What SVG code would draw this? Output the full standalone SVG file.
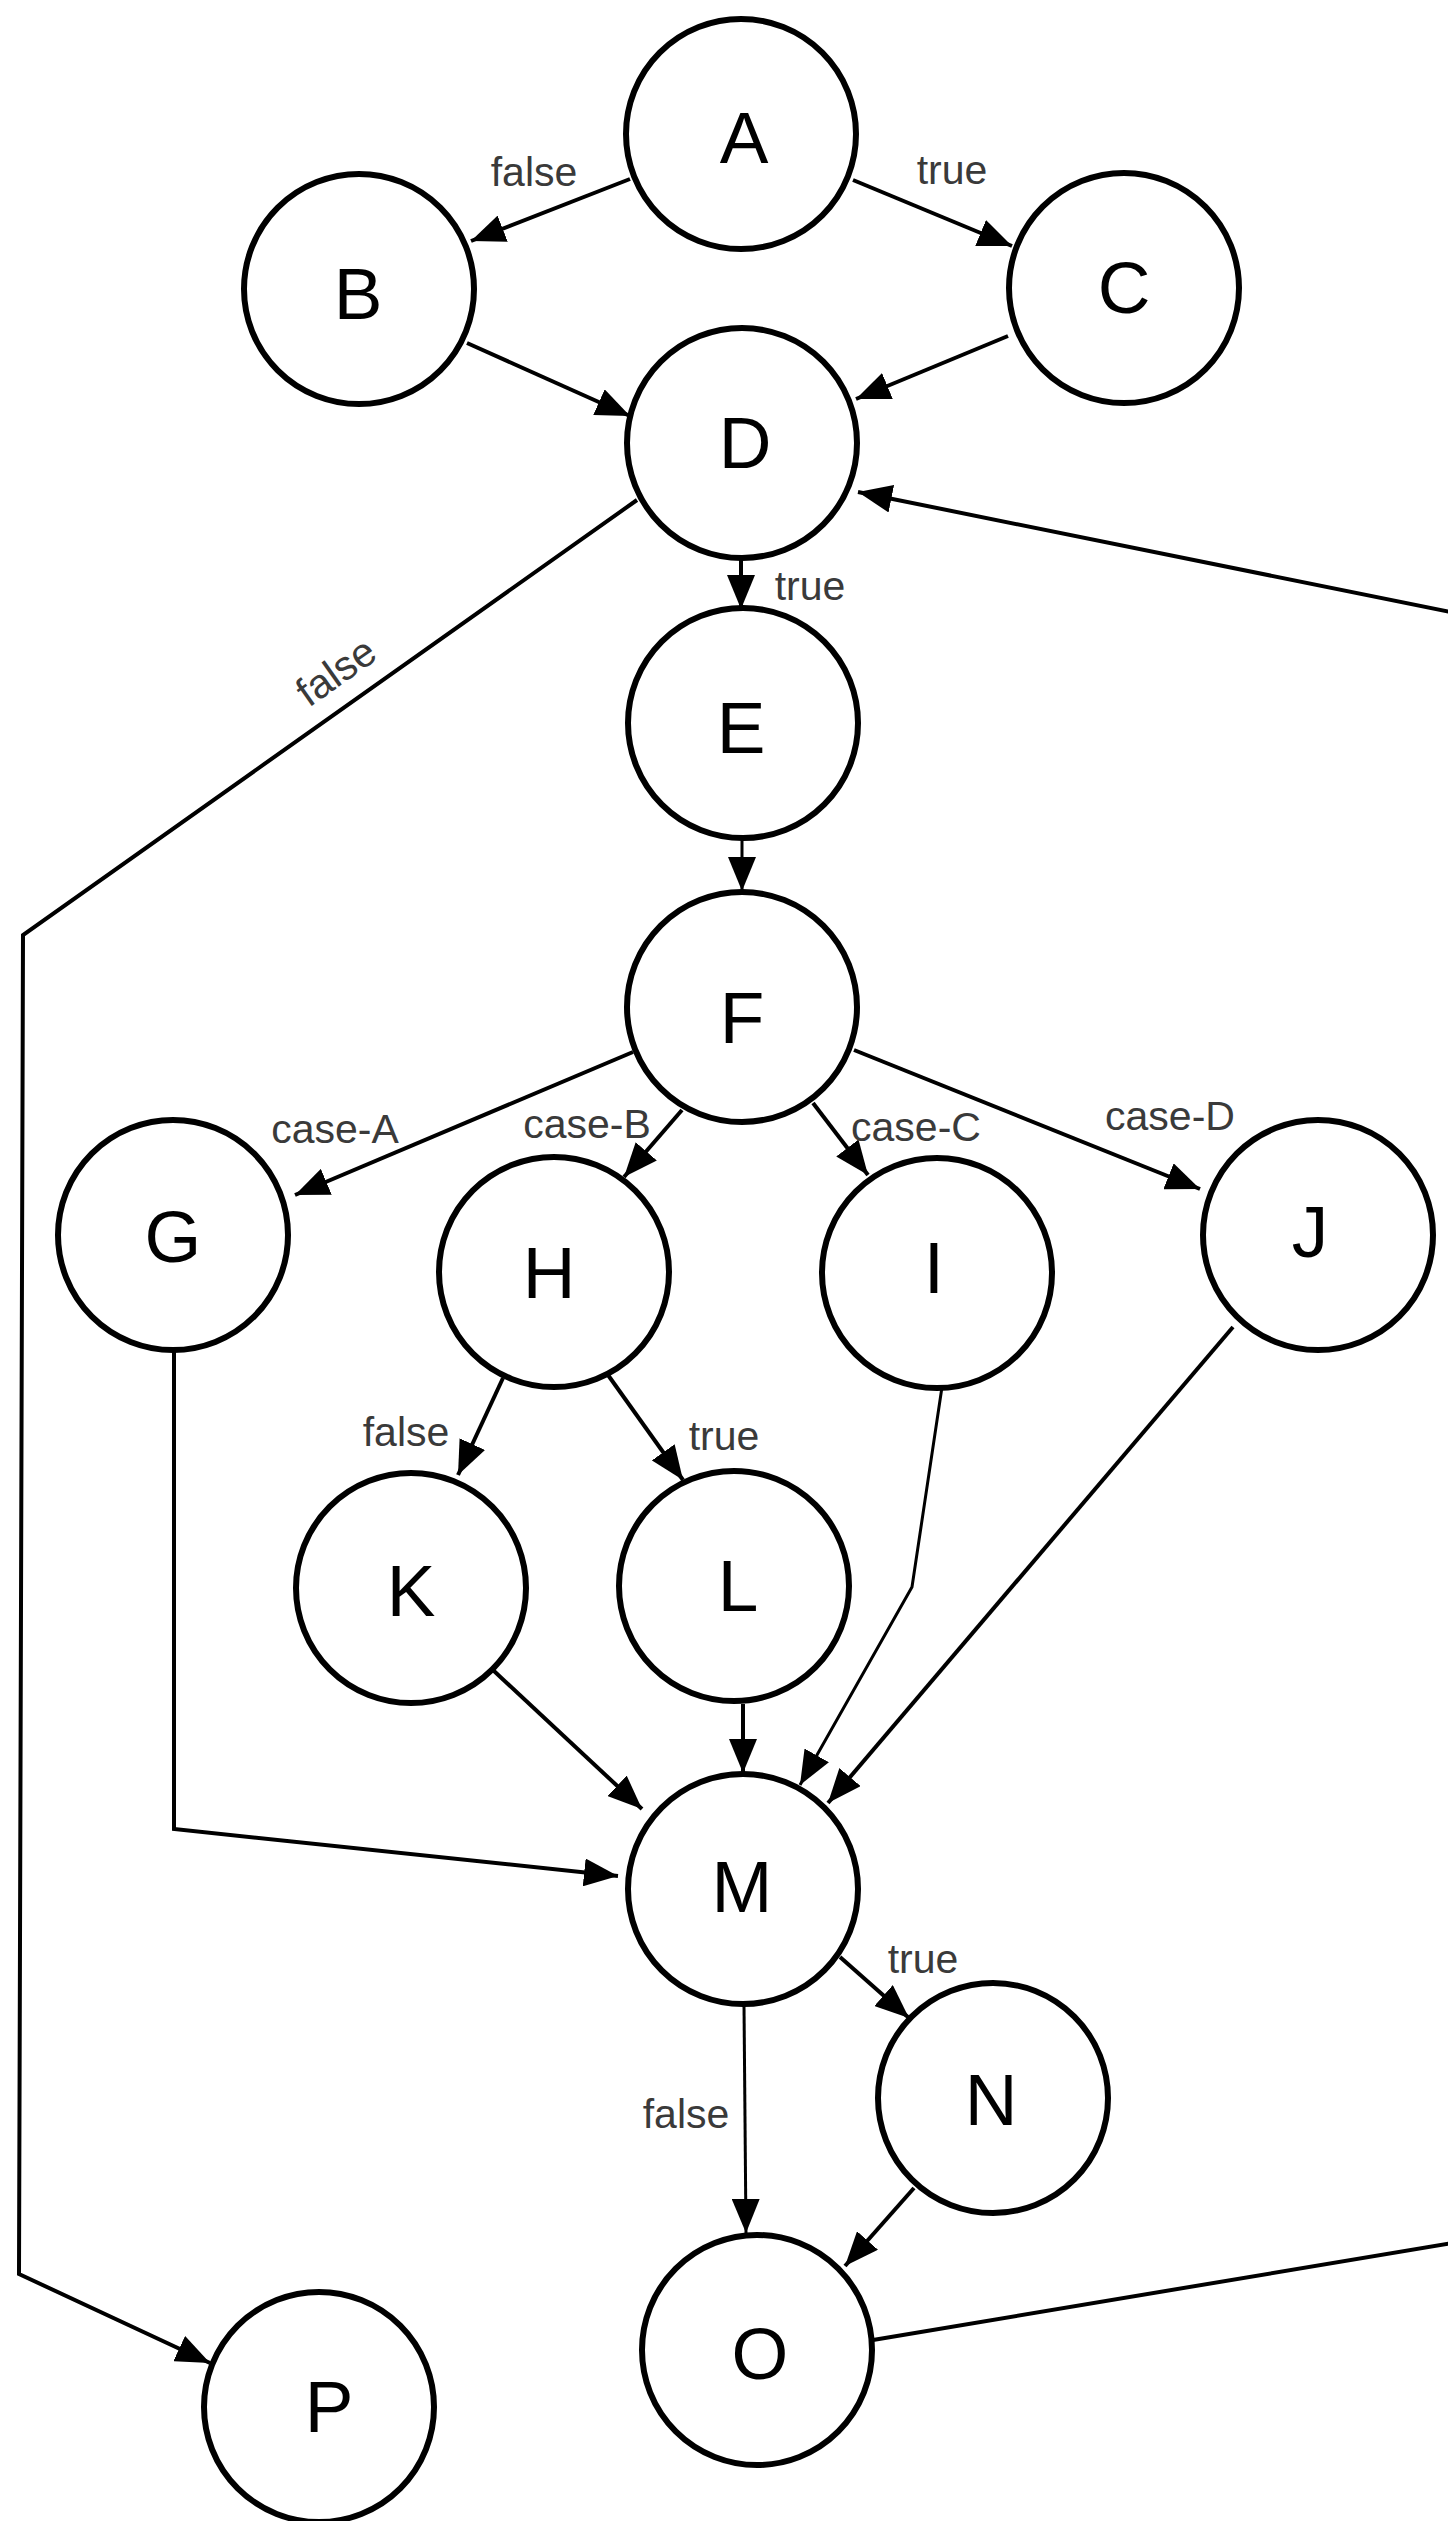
<svg xmlns="http://www.w3.org/2000/svg" width="1448" height="2521" viewBox="0 0 1448 2521">
<style>
.node circle{fill:#fff;stroke:#000;stroke-width:6}
.node text{font-family:"Liberation Sans",Arial,sans-serif;font-size:73px;fill:#000;text-anchor:middle}
.edge{fill:none;stroke:#000;stroke-width:4;marker-end:url(#arr)}
.thin{stroke-width:3}
.lbl{font-family:"Liberation Sans",Arial,sans-serif;font-size:41px;fill:#3a3a3a;text-anchor:middle}
</style>
<defs>
<marker id="arr" markerUnits="userSpaceOnUse" markerWidth="36" markerHeight="28" refX="34" refY="14" orient="auto">
<path d="M0,0 L34,14 L0,28 z" fill="#000"/>
</marker>
</defs>
<rect width="1448" height="2521" fill="#fff"/>
<g id="connectors">
<line class="edge" x1="630" y1="179" x2="471" y2="241"/>
<line class="edge" x1="853" y1="180" x2="1012" y2="246"/>
<line class="edge" x1="467" y1="343" x2="630" y2="416"/>
<line class="edge" x1="1008" y1="336" x2="856" y2="399"/>
<line class="edge" x1="741" y1="553" x2="741" y2="609"/>
<polyline class="edge" points="637,500 23,935 19,2274 210,2363"/>
<line class="edge thin" x1="742" y1="838" x2="742" y2="891"/>
<line class="edge" x1="633" y1="1052" x2="295" y2="1195"/>
<line class="edge" x1="682" y1="1110" x2="624" y2="1177"/>
<line class="edge" x1="813" y1="1103" x2="868" y2="1175"/>
<line class="edge" x1="854" y1="1050" x2="1200" y2="1189"/>
<line class="edge" x1="503" y1="1378" x2="458" y2="1475"/>
<line class="edge" x1="608" y1="1375" x2="683" y2="1480"/>
<polyline class="edge" points="174,1350 174,1829 618,1876"/>
<line class="edge" x1="494" y1="1671" x2="642" y2="1809"/>
<line class="edge" x1="743" y1="1704" x2="743" y2="1773"/>
<polyline class="edge thin" points="942,1387 912,1587 800,1785"/>
<line class="edge" x1="1233" y1="1327" x2="828" y2="1803"/>
<line class="edge" x1="840" y1="1957" x2="909" y2="2018"/>
<line class="edge thin" x1="744" y1="2005" x2="746" y2="2233"/>
<line class="edge" x1="914" y1="2188" x2="845" y2="2266"/>
<polyline class="edge" points="873,2340 1470,2240 1470,616 858,492"/>
<text class="lbl" x="534" y="186">false</text>
<text class="lbl" x="952" y="184">true</text>
<text class="lbl" x="810" y="600">true</text>
<text class="lbl" transform="translate(344,683) rotate(-35.3)">false</text>
<text class="lbl" x="335" y="1143">case-A</text>
<text class="lbl" x="587" y="1138">case-B</text>
<text class="lbl" x="916" y="1141">case-C</text>
<text class="lbl" x="1170" y="1130">case-D</text>
<text class="lbl" x="406" y="1446">false</text>
<text class="lbl" x="724" y="1450">true</text>
<text class="lbl" x="923" y="1973">true</text>
<text class="lbl" x="686" y="2128">false</text>
</g>
<g id="A" class="node"><circle cx="741" cy="134" r="115"/><text x="744" y="163">A</text></g>
<g id="B" class="node"><circle cx="359" cy="289" r="115"/><text x="358" y="319">B</text></g>
<g id="C" class="node"><circle cx="1124" cy="288" r="115"/><text x="1124" y="313">C</text></g>
<g id="D" class="node"><circle cx="742" cy="443" r="115"/><text x="745" y="468">D</text></g>
<g id="E" class="node"><circle cx="743" cy="723" r="115"/><text x="741" y="753">E</text></g>
<g id="F" class="node"><circle cx="742" cy="1007" r="115"/><text x="742" y="1043">F</text></g>
<g id="G" class="node"><circle cx="173" cy="1235" r="115"/><text x="173" y="1262">G</text></g>
<g id="H" class="node"><circle cx="554" cy="1272" r="115"/><text x="549" y="1298">H</text></g>
<g id="I" class="node"><circle cx="937" cy="1273" r="115"/><text x="934" y="1293">I</text></g>
<g id="J" class="node"><circle cx="1318" cy="1235" r="115"/><text x="1310" y="1257">J</text></g>
<g id="K" class="node"><circle cx="411" cy="1588" r="115"/><text x="411" y="1616">K</text></g>
<g id="L" class="node"><circle cx="734" cy="1586" r="115"/><text x="738" y="1611">L</text></g>
<g id="M" class="node"><circle cx="743" cy="1889" r="115"/><text x="742" y="1912">M</text></g>
<g id="N" class="node"><circle cx="993" cy="2098" r="115"/><text x="991" y="2125">N</text></g>
<g id="O" class="node"><circle cx="757" cy="2350" r="115"/><text x="760" y="2379">O</text></g>
<g id="P" class="node"><circle cx="319" cy="2407" r="115"/><text x="329" y="2432">P</text></g>
</svg>
